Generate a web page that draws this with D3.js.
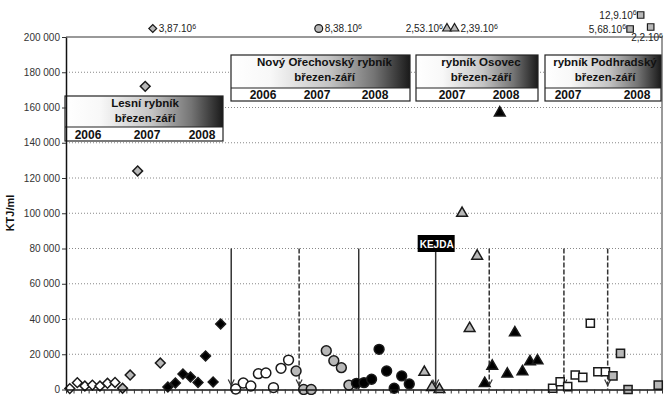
<!DOCTYPE html>
<html>
<head>
<meta charset="utf-8">
<script src="https://cdn.jsdelivr.net/npm/d3@7"></script>
<style>
    body { margin: 0; background: #fff; }
    svg text { font-family: Arial, "Liberation Sans", sans-serif; }
</style>
</head>
<body>
<svg id="chart" width="664" height="395"></svg>
<script>
// KTJ/ml per sample, in sampling order (values above 200 000 are shown as labels on top)
const lesni2006 = [500, 3900, 2000, 2500, 2000, 3500, 4000];
const lesni2007 = [700, 8200, 124000, 172000, 3870000, 15000];
const lesni2008 = [1400, 3700, 8800, 7100, 4000, 19000, 4300, 37200];
const novy2006 = [300, 3700, 2000, 9000, 9400, 1100, 12000, 16700];
const novy2007 = [10500, 0, 0, 8380000, 22000, 16300, 12400, 2500];
const novy2008 = [3500, 3900, 5800, 22800, 10500, 700, 7700, 3100];
const osovec2007 = [9800, 1200, 0, 2530000, 2390000, 100000, 34700, 75700];
const osovec2008 = [3500, 13300, 157000, 8800, 32200, 10100, 15800, 16300];
const podhradsky2007 = [700, 4400, 1600, 8200, 6900, 37600, 10100, 10100];
const podhradsky2008 = [7700, 20500, 0, 5680000, 12900000, 2200000, 2500];

const ponds = ["Lesní rybník", "Nový Ořechovský rybník", "rybník Osovec", "rybník Podhradský"];
const pondYears = [["2006", "2007", "2008"], ["2006", "2007", "2008"], ["2007", "2008"], ["2007", "2008"]];
const season = "březen-září";
const yTicks = [0, 20000, 40000, 60000, 80000, 100000, 120000, 140000, 160000, 180000, 200000];

// events between samples (position in sample slots)
const eventAt = [21.4, 30.4, 38.3, 48.5, 55.6, 65.5, 71.3];
const eventDashed = [false, true, false, false, true, true, true];
const eventArrow = [true, true, false, true, true, true, true];
const eventLabel = ["", "", "", "KEJDA", "", "", ""];

// marker look per year within a pond
const series = [
    { pond: 0, shape: "diamond", fill: "#fff", values: lesni2006 },
    { pond: 0, shape: "diamond", fill: "#b8b8b8", values: lesni2007 },
    { pond: 0, shape: "diamond", fill: "#000", values: lesni2008 },
    { pond: 1, shape: "circle", fill: "#fff", values: novy2006 },
    { pond: 1, shape: "circle", fill: "#b8b8b8", values: novy2007 },
    { pond: 1, shape: "circle", fill: "#000", values: novy2008 },
    { pond: 2, shape: "triangle", fill: "#b8b8b8", values: osovec2007 },
    { pond: 2, shape: "triangle", fill: "#000", values: osovec2008 },
    { pond: 3, shape: "square", fill: "#fff", values: podhradsky2007 },
    { pond: 3, shape: "square", fill: "#b8b8b8", values: podhradsky2008 }
];

// Lay out samples one after another, one empty slot between ponds
let categories = [];
let points = [];
let slot = 0;
series.forEach((s, si) => {
    if (si > 0 && series[si - 1].pond !== s.pond) {
        categories.push(slot++);
    }
    s.values.forEach((v) => {
        points.push({ slot: slot, value: v, shape: s.shape, fill: s.fill });
        categories.push(slot++);
    });
});

let svg = d3.select("#chart");

let plotLeft = 66, plotRight = 662, plotTop = 37, plotBottom = 389.5;

let x = d3.scaleBand().domain(categories).range([plotLeft, plotRight]);
let y = d3.scaleLinear().domain([0, 200000]).range([plotBottom, plotTop]);
let xs = d3.scaleLinear().domain([0, categories.length]).range([plotLeft, plotRight]);
let xc = (p) => xs(p + 0.5);

// gradient for the pond headers
let grad = svg.append("defs").append("linearGradient").attr("id", "hdr");
[[0, "#ffffff"], [0.22, "#f8f8f8"], [0.55, "#c4c4c4"], [0.8, "#747474"], [1, "#1a1a1a"]].forEach(([o, c]) => {
    grad.append("stop").attr("offset", o).attr("stop-color", c);
});

// Grid lines
svg.append("g")
    .selectAll("line")
    .data(yTicks.filter((t) => t > 0 && t < 200000))
    .enter()
    .append("line")
    .attr("x1", plotLeft)
    .attr("x2", plotRight)
    .attr("y1", (d) => y(d))
    .attr("y2", (d) => y(d))
    .attr("stroke", "#888")
    .attr("stroke-width", 1)
    .attr("stroke-dasharray", "1,2");

// plot frame (top and right)
svg.append("path")
    .attr("d", `M${plotLeft},${y(200000)}H${plotRight}V${plotBottom}`)
    .attr("fill", "none")
    .attr("stroke", "#999")
    .attr("stroke-width", 2);

// Event lines
let evG = svg.append("g");
eventAt.forEach((at, i) => {
    let ex = xc(at);
    let y1 = eventLabel[i] ? y(80000) + 3.5 : y(80000);
    evG.append("line")
        .attr("x1", ex).attr("x2", ex)
        .attr("y1", y1).attr("y2", plotBottom)
        .attr("stroke", "#333")
        .attr("stroke-width", 1.5)
        .attr("stroke-dasharray", eventDashed[i] ? "5,2" : null);
    if (eventArrow[i]) {
        evG.append("path")
            .attr("d", `M${ex - 3},${plotBottom - 10}L${ex},${plotBottom - 4}L${ex + 3},${plotBottom - 10}`)
            .attr("fill", "none")
            .attr("stroke", "#333")
            .attr("stroke-width", 1.2);
    }
    if (eventLabel[i]) {
        evG.append("rect")
            .attr("x", ex - 18).attr("y", y(80000) - 13.5)
            .attr("width", 37).attr("height", 17)
            .attr("fill", "#000");
        evG.append("text")
            .attr("x", ex + 1).attr("y", y(80000) - 1)
            .attr("text-anchor", "middle")
            .attr("font-size", 10).attr("font-weight", "bold")
            .attr("fill", "#fff")
            .text(eventLabel[i]);
    }
});

// Pond header boxes
let boxes = [
    { x: 65, y: 96, w: 158, h: 45, split: 31, dx: 1, yearX: [23, 82, 137] },
    { x: 231, y: 55, w: 179, h: 46, split: 33, dx: 4, yearX: [32, 86, 144] },
    { x: 416, y: 55, w: 122, h: 46, split: 33, dx: 4, yearX: [36, 90] },
    { x: 545, y: 55, w: 116, h: 46, split: 33, dx: 2, yearX: [23, 92] }
];
boxes.forEach((b, i) => {
    let g = svg.append("g");
    g.append("clipPath").attr("id", "clip" + i)
        .append("rect").attr("x", b.x).attr("y", b.y).attr("width", b.w).attr("height", b.h);
    g.append("rect")
        .attr("x", b.x).attr("y", b.y).attr("width", b.w).attr("height", b.split)
        .attr("fill", "url(#hdr)");
    g.append("rect")
        .attr("x", b.x).attr("y", b.y + b.split).attr("width", b.w).attr("height", b.h - b.split)
        .attr("fill", "#fff");
    g.append("rect")
        .attr("x", b.x).attr("y", b.y).attr("width", b.w).attr("height", b.h)
        .attr("fill", "none").attr("stroke", "#222").attr("stroke-width", 1.2);
    g.append("line")
        .attr("x1", b.x).attr("x2", b.x + b.w)
        .attr("y1", b.y + b.split).attr("y2", b.y + b.split)
        .attr("stroke", "#222").attr("stroke-width", 1.2);
    let t = g.append("g").attr("clip-path", `url(#clip${i})`)
        .attr("font-weight", "bold").attr("text-anchor", "middle").attr("fill", "#111");
    t.append("text").attr("x", b.x + b.w / 2 + b.dx).attr("y", b.y + 11)
        .attr("font-size", 11.5).text(ponds[i]);
    t.append("text").attr("x", b.x + b.w / 2 + b.dx).attr("y", b.y + 26)
        .attr("font-size", 11.5).text(season);
    pondYears[i].forEach((yr, k) => {
        t.append("text").attr("x", b.x + b.yearX[k]).attr("y", b.y + b.h - 2.5)
            .attr("font-size", 12).text(yr);
    });
});

// Markers
let sym = {
    diamond: d3.symbol(d3.symbolSquare, 48)(),
    circle: d3.symbol(d3.symbolCircle, 76)(),
    triangle: d3.symbol(d3.symbolTriangle, 50)(),
    square: d3.symbol(d3.symbolSquare, 66)()
};
let markerAt = (sel, shape, fill, px, py, scale) => {
    sel.append("path")
        .attr("d", sym[shape])
        .attr("transform", `translate(${px},${py})` + (shape === "diamond" ? " rotate(45)" : "") + (scale ? ` scale(${scale})` : ""))
        .attr("fill", fill)
        .attr("stroke", "#1a1a1a")
        .attr("stroke-width", 1.5);
};

let markG = svg.append("g");
points.filter((p) => p.value <= 200000).forEach((p) => {
    markerAt(markG, p.shape, p.fill, xc(p.slot), y(p.value));
});

// Values off the scale, written above the plot
let offPlace = [
    { side: "right", dx: 0, dy: 0 },
    { side: "right", dx: 0, dy: 0 },
    { side: "left", dx: 0, dy: 0 },
    { side: "right", dx: 0, dy: 0 },
    { side: "left", dx: -5.5, dy: 0.5 },
    { side: "left", dx: -2.5, dy: -13.5 },
    { side: "below", dx: 0, dy: -1.5 }
];
let offG = svg.append("g").attr("font-size", 10).attr("fill", "#222");
points.filter((p) => p.value > 200000).forEach((p, i) => {
    let pl = offPlace[i];
    let px = xc(p.slot) + pl.dx;
    let py = 28.5 + pl.dy;
    markerAt(offG, p.shape, p.fill, px, py, 0.8);
    let tx = px + 6, ty = py + 3.5, anchor = "start";
    if (pl.side === "left") { tx = px - 4; anchor = "end"; }
    if (pl.side === "below") { tx = plotRight + 1; ty = py + 14; anchor = "end"; }
    let txt = offG.append("text").attr("x", tx).attr("y", ty).attr("text-anchor", anchor);
    txt.append("tspan").text(String(p.value / 1e6).replace(".", ",") + ".10");
    txt.append("tspan").attr("font-size", 7).attr("dy", -3.5).text("6");
});

// Axes
let yAxis = svg.append("g")
    .attr("transform", `translate(${plotLeft},0)`)
    .call(d3.axisLeft(y)
        .tickValues(yTicks)
        .tickSize(4)
        .tickSizeOuter(0)
        .tickPadding(2)
        .tickFormat((d) => d3.format(",")(d).replace(/,/g, " ")));
yAxis.select(".domain").attr("stroke", "#111").attr("stroke-width", 1.5);
yAxis.selectAll(".tick line").attr("stroke", "#333");
yAxis.selectAll("text").attr("font-size", 10).attr("fill", "#333")
    .style("font-family", "Arial, 'Liberation Sans', sans-serif");

let xAxis = svg.append("g")
    .attr("transform", `translate(0,${plotBottom})`)
    .call(d3.axisBottom(xs)
        .tickValues(d3.range(categories.length + 1))
        .tickSize(4)
        .tickSizeOuter(0)
        .tickFormat(""));
xAxis.select(".domain").attr("stroke", "#111").attr("stroke-width", 1.5);
xAxis.selectAll(".tick line").attr("stroke", "#333");

svg.append("text")
    .attr("transform", "translate(14,213) rotate(-90)")
    .attr("text-anchor", "middle")
    .attr("font-size", 11)
    .attr("font-weight", "bold")
    .attr("fill", "#111")
    .text("KTJ/ml");
</script>
</body>
</html>
